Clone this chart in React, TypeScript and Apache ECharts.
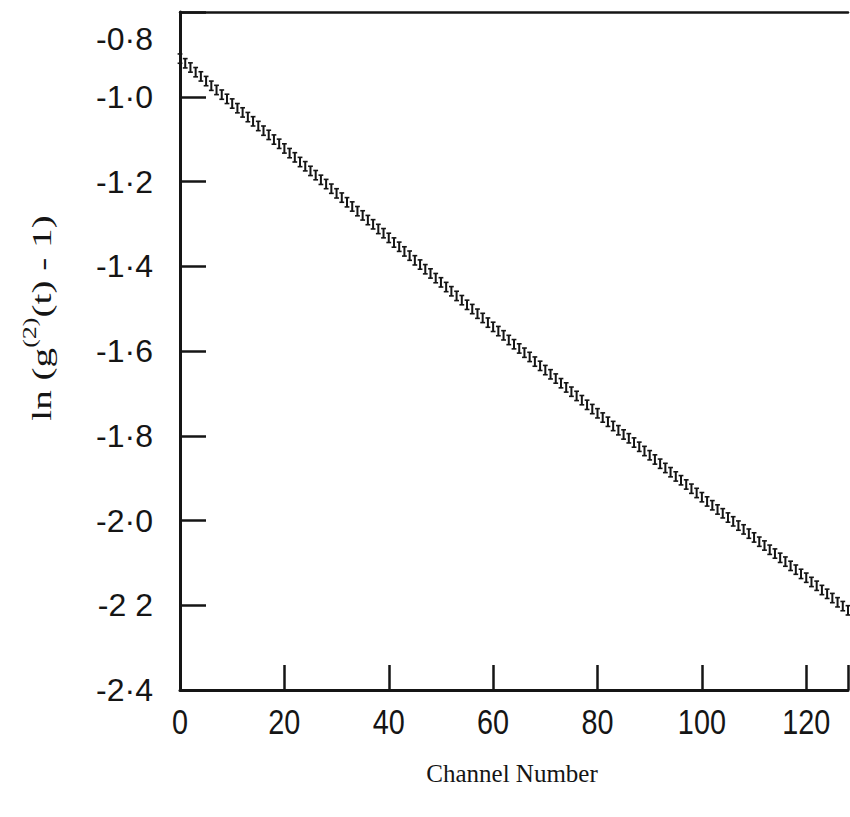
import React, { useEffect, useRef } from "react";
import * as echarts from "echarts";

const channels: number[] = Array.from({ length: 129 }, (_, i) => i);
const lnValues: number[] = [
  -0.910, -0.921, -0.931, -0.942, -0.952, -0.963, -0.974, -0.984, -0.995, -1.005,
  -1.016, -1.027, -1.037, -1.048, -1.058, -1.069, -1.080, -1.090, -1.101, -1.111,
  -1.122, -1.133, -1.143, -1.154, -1.164, -1.175, -1.185, -1.196, -1.206, -1.217,
  -1.228, -1.238, -1.249, -1.259, -1.270, -1.280, -1.291, -1.301, -1.312, -1.322,
  -1.333, -1.344, -1.354, -1.365, -1.375, -1.386, -1.396, -1.407, -1.417, -1.428,
  -1.438, -1.449, -1.459, -1.470, -1.480, -1.491, -1.501, -1.512, -1.522, -1.533,
  -1.543, -1.553, -1.563, -1.574, -1.584, -1.594, -1.604, -1.614, -1.625, -1.635,
  -1.645, -1.655, -1.665, -1.676, -1.686, -1.696, -1.706, -1.716, -1.727, -1.737,
  -1.747, -1.757, -1.767, -1.777, -1.787, -1.797, -1.806, -1.816, -1.826, -1.836,
  -1.846, -1.856, -1.866, -1.876, -1.886, -1.896, -1.905, -1.915, -1.925, -1.935,
  -1.945, -1.955, -1.964, -1.974, -1.983, -1.993, -2.002, -2.012, -2.021, -2.031,
  -2.040, -2.050, -2.059, -2.069, -2.078, -2.088, -2.097, -2.107, -2.116, -2.126,
  -2.135, -2.145, -2.154, -2.164, -2.173, -2.183, -2.193, -2.202, -2.212,
];
const errorHalf = 0.011;
const xTicks: number[] = [0, 20, 40, 60, 80, 100, 120];
const yTickLabels: Record<string, string> = {
  "-0.8": "-0·8",
  "-1": "-1·0",
  "-1.2": "-1·2",
  "-1.4": "-1·4",
  "-1.6": "-1·6",
  "-1.8": "-1·8",
  "-2": "-2·0",
  "-2.2": "-2 2",
  "-2.4": "-2·4",
};

const INK = "#151515";
const NUM_FONT = "'Liberation Sans', Arial, sans-serif";
const SERIF = "'Liberation Serif', 'Times New Roman', serif";

export default function App() {
  const ref = useRef<HTMLDivElement>(null);
  useEffect(() => {
    if (!ref.current) return;
    const chart = echarts.init(ref.current, null, { renderer: "svg" });
    const data = channels.map((c, i) => [c, lnValues[i]]);
    chart.setOption({
      animation: false,
      backgroundColor: "#ffffff",
      grid: { left: 180, right: 2, top: 12, bottom: 127 },
      xAxis: [
        {
          type: "value",
          min: 0,
          max: 128,
          interval: 20,
          axisLine: { show: true, lineStyle: { color: INK, width: 3 } },
          axisTick: { show: true, inside: true, length: 25, lineStyle: { color: INK, width: 2.5 } },
          axisLabel: { show: false },
          splitLine: { show: false },
        },
        {
          type: "value",
          position: "top",
          min: 0,
          max: 128,
          axisLine: { show: true, lineStyle: { color: INK, width: 2.5 } },
          axisTick: { show: false },
          axisLabel: { show: false },
          splitLine: { show: false },
        },
      ],
      yAxis: {
        type: "value",
        min: -2.4,
        max: -0.8,
        interval: 0.2,
        axisLine: { show: true, lineStyle: { color: INK, width: 3 } },
        axisTick: { show: true, inside: true, length: 26, lineStyle: { color: INK, width: 2.5 } },
        axisLabel: {
          show: true,
          margin: 27,
          color: INK,
          fontFamily: NUM_FONT,
          fontSize: 32,
          formatter: (v: number) => {
            const k = String(Math.round(v * 10) / 10);
            if (k === "-0.8") return "";
            return yTickLabels[k] ?? "";
          },
        },
        splitLine: { show: false },
      },
      series: [
        {
          type: "custom",
          xAxisIndex: 0,
          yAxisIndex: 0,
          data,
          renderItem: (params: any, api: any) => {
            const x = api.value(0);
            const y = api.value(1);
            const top = api.coord([x, y + errorHalf]);
            const bot = api.coord([x, y - errorHalf]);
            const cw = 2.4;
            return {
              type: "group",
              children: [
                {
                  type: "line",
                  shape: { x1: top[0], y1: top[1], x2: bot[0], y2: bot[1] },
                  style: { stroke: INK, lineWidth: 2 },
                },
                {
                  type: "line",
                  shape: { x1: top[0] - cw, y1: top[1], x2: top[0] + cw, y2: top[1] },
                  style: { stroke: INK, lineWidth: 1.6 },
                },
                {
                  type: "line",
                  shape: { x1: bot[0] - cw, y1: bot[1], x2: bot[0] + cw, y2: bot[1] },
                  style: { stroke: INK, lineWidth: 1.6 },
                },
              ],
            };
          },
        },
      ],
    });

    const yBottom = chart.convertToPixel({ yAxisIndex: 0 }, -2.4) as number;
    const yTop = chart.convertToPixel({ yAxisIndex: 0 }, -0.8) as number;
    const xLabels = xTicks.map((t) => {
      const px = chart.convertToPixel({ xAxisIndex: 0 }, t) as number;
      return {
        type: "text",
        x: px,
        y: yBottom + 31,
        scaleX: 0.8,
        style: {
          text: String(t),
          align: "center",
          verticalAlign: "middle",
          fill: INK,
          font: `36px ${NUM_FONT}`,
        },
      };
    });

    chart.setOption({
      graphic: [
        ...xLabels,
        {
          type: "text",
          x: 153,
          y: yTop + 27,
          style: {
            text: yTickLabels["-0.8"],
            align: "right",
            verticalAlign: "middle",
            fill: INK,
            font: `32px ${NUM_FONT}`,
          },
        },
        {
          type: "text",
          x: 38,
          y: 318,
          rotation: Math.PI / 2,
          scaleX: 1.45,
          style: {
            text: "{a|ln (g}{s|(2)}{a|(t) - 1)}",
            align: "center",
            verticalAlign: "middle",
            fill: INK,
            rich: {
              a: { fontFamily: SERIF, fontSize: 27, fill: INK, lineHeight: 34, verticalAlign: "bottom" },
              s: { fontFamily: SERIF, fontSize: 18, fill: INK, lineHeight: 34, verticalAlign: "top" },
            },
          },
        },
        {
          type: "text",
          x: 512,
          y: 773,
          style: {
            text: "Channel Number",
            align: "center",
            verticalAlign: "middle",
            fill: INK,
            font: `25px ${SERIF}`,
          },
        },
      ],
    });
    return () => chart.dispose();
  }, []);
  return (
    <div
      ref={ref}
      style={{ position: "fixed", left: 0, top: 0, width: 850, height: 817, background: "#fff" }}
    />
  );
}
